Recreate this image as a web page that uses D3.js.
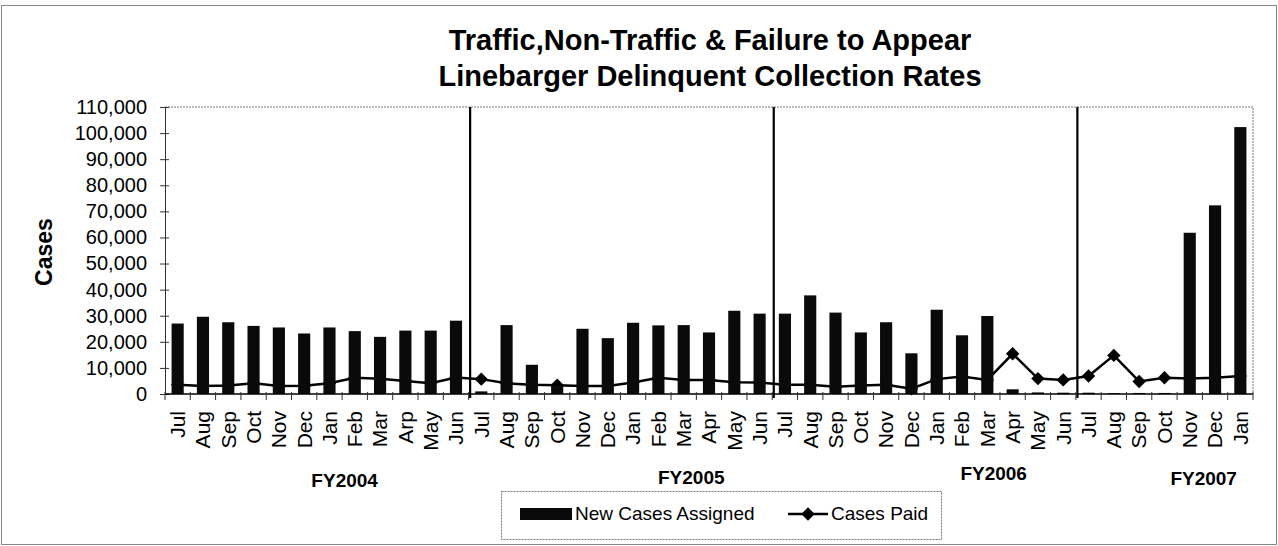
<!DOCTYPE html>
<html>
<head>
<meta charset="utf-8">
<script src="https://cdn.jsdelivr.net/npm/d3@7"></script>
<style>
  body { margin: 0; background: #fff; }
  svg { display: block; font-family: "Liberation Sans", Arial, sans-serif; }
</style>
</head>
<body>
<svg id="chart" width="1278" height="546"></svg>
<script>
// data
const fiscalYears = ['FY2004', 'FY2005', 'FY2006', 'FY2007'];
const months2004 = ['Jul', 'Aug', 'Sep', 'Oct', 'Nov', 'Dec', 'Jan', 'Feb', 'Mar', 'Arp', 'May', 'Jun'];
const months2005 = ['Jul', 'Aug', 'Sep', 'Oct', 'Nov', 'Dec', 'Jan', 'Feb', 'Mar', 'Apr', 'May', 'Jun'];
const months2006 = ['Jul', 'Aug', 'Sep', 'Oct', 'Nov', 'Dec', 'Jan', 'Feb', 'Mar', 'Apr', 'May', 'Jun'];
const months2007 = ['Jul', 'Aug', 'Sep', 'Oct', 'Nov', 'Dec', 'Jan'];

const newCases = [
  27000, 29600, 27500, 26100, 25500, 23200, 25500, 24100, 21900, 24300, 24300, 28100,
  1000, 26400, 11200, 3200, 25000, 21400, 27300, 26300, 26400, 23600, 31900, 30800,
  30800, 37800, 31200, 23600, 27500, 15600, 32300, 22500, 29900, 1800, 600, 500,
  500, 300, 400, 400, 61800, 72300, 102300
];
const casesPaid = [
  3500, 3100, 3300, 4100, 3100, 3200, 4100, 6200, 5800, 5000, 4100, 6300,
  5700, 4100, 3500, 3400, 3100, 3100, 4400, 6200, 5400, 5400, 4500, 4400,
  3500, 3500, 2800, 3300, 3500, 2000, 5700, 6700, 5400, 15400, 5900, 5400,
  6900, 14800, 4800, 6200, 5900, 6200, 6900
];
const yTicks = [0, 10000, 20000, 30000, 40000, 50000, 60000, 70000, 80000, 90000, 100000, 110000];

const monthsByYear = [months2004, months2005, months2006, months2007];
const cats = [];
monthsByYear.forEach((ms, fi) => ms.forEach(m => cats.push({ key: fiscalYears[fi] + '-' + m, month: m, fy: fi })));
const rows = cats.map((c, i) => ({ ...c, cases: newCases[i], paid: casesPaid[i] }));

const svg = d3.select('#chart');
const plotL = 165, plotR = 1253, plotT = 107, plotB = 394;

const x = d3.scaleBand().domain(cats.map(c => c.key)).range([plotL, plotR]).padding(0);
const bw = x.bandwidth();
const y = d3.scaleLinear().domain([0, 110000]).range([plotB, plotT]);

// outer frame
svg.append('rect').attr('x', 1.5).attr('y', 5.5).attr('width', 1275).attr('height', 539)
  .attr('fill', 'none').attr('stroke', '#888').attr('stroke-width', 1);

// title
const title = svg.append('text').attr('text-anchor', 'middle').attr('font-weight', 'bold').attr('font-size', 29);
title.append('tspan').attr('x', 710).attr('y', 50).text('Traffic,Non-Traffic & Failure to Appear');
title.append('tspan').attr('x', 710).attr('y', 86).text('Linebarger Delinquent Collection Rates');

// plot frame (top / right)
svg.append('path').attr('d', `M${plotL},${plotT}H${plotR}V${plotB}`)
  .attr('fill', 'none').attr('stroke', '#777').attr('stroke-width', 1).attr('stroke-dasharray', '2,1');

// cases paid line (drawn under the bars, as in the original)
const cx = d => x(d.key) + bw / 2;
svg.append('path').datum(rows)
  .attr('d', d3.line().x(cx).y(d => y(d.paid)))
  .attr('fill', 'none').attr('stroke', '#000').attr('stroke-width', 2.5);
svg.append('g').selectAll('path').data(rows).enter().append('path')
  .attr('d', d3.symbol(d3.symbolSquare, 90))
  .attr('transform', d => `translate(${cx(d)},${y(d.paid)}) rotate(45)`)
  .attr('fill', '#000');

// new cases bars
svg.append('g').selectAll('rect').data(rows).enter().append('rect')
  .attr('x', d => x(d.key) + bw * 0.26).attr('width', bw * 0.48)
  .attr('y', d => y(d.cases)).attr('height', d => plotB - y(d.cases))
  .attr('fill', '#0a0a0a');

// fiscal year separators
fiscalYears.slice(1).forEach((fy, i) => {
  const k = cats.find(c => c.fy === i + 1).key;
  svg.append('line').attr('x1', x(k) + 1.5).attr('x2', x(k) + 1.5).attr('y1', plotT).attr('y2', plotB + 4)
    .attr('stroke', '#000').attr('stroke-width', 2.2);
});

// y axis
const yAxis = svg.append('g').attr('transform', `translate(${plotL},0)`)
  .call(d3.axisLeft(y).tickValues(yTicks).tickFormat(d3.format(',')).tickSize(5).tickPadding(13));
yAxis.select('.domain').attr('stroke', '#333');
yAxis.selectAll('.tick line').attr('x1', 4).attr('x2', -5).attr('stroke', '#333');
yAxis.selectAll('.tick text').attr('font-size', 20).attr('font-family', '"Liberation Sans", Arial, sans-serif').attr('fill', '#000');

svg.append('text').attr('transform', 'translate(44,252) rotate(-90)').attr('dy', '0.35em')
  .attr('text-anchor', 'middle').attr('font-weight', 'bold').attr('font-size', 23).text('Cases');

// x axis
svg.append('line').attr('x1', plotL).attr('x2', plotR).attr('y1', plotB).attr('y2', plotB)
  .attr('stroke', '#000').attr('stroke-width', 1.5);
svg.append('g').selectAll('line').data(cats.map(c => x(c.key)).concat([plotR])).enter().append('line')
  .attr('x1', d => d).attr('x2', d => d).attr('y1', plotB - 2).attr('y2', plotB + 6)
  .attr('stroke', '#333');
svg.append('g').selectAll('text').data(cats).enter().append('text')
  .attr('transform', d => `translate(${x(d.key) + bw / 2},411) rotate(-90)`)
  .attr('dy', '0.35em').attr('text-anchor', 'end').attr('font-size', 21).text(d => d.month);

// fiscal year labels (placed where the original had them)
const fyAt = [7.1, 8.8, 8.75, 5.05];
const fyBase = [487, 484, 480, 485];
fiscalYears.forEach((fy, i) => {
  const k = cats.find(c => c.fy === i).key;
  svg.append('text').attr('x', x(k) + fyAt[i] * bw).attr('y', fyBase[i])
    .attr('text-anchor', 'middle').attr('font-weight', 'bold').attr('font-size', 19).text(fy);
});

// legend
const lg = svg.append('g');
lg.append('rect').attr('x', 501.5).attr('y', 491.5).attr('width', 440).attr('height', 48)
  .attr('fill', '#fff').attr('stroke', '#777').attr('stroke-dasharray', '2,1');
lg.append('rect').attr('x', 520).attr('y', 508).attr('width', 52).attr('height', 12).attr('fill', '#0a0a0a');
lg.append('text').attr('x', 575).attr('y', 520).attr('font-size', 19).text('New Cases Assigned');
lg.append('line').attr('x1', 788).attr('x2', 828).attr('y1', 514).attr('y2', 514).attr('stroke', '#000').attr('stroke-width', 2.5);
lg.append('path').attr('d', d3.symbol(d3.symbolSquare, 90)).attr('transform', 'translate(808,514) rotate(45)');
lg.append('text').attr('x', 831).attr('y', 520).attr('font-size', 19).text('Cases Paid');
</script>
</body>
</html>
